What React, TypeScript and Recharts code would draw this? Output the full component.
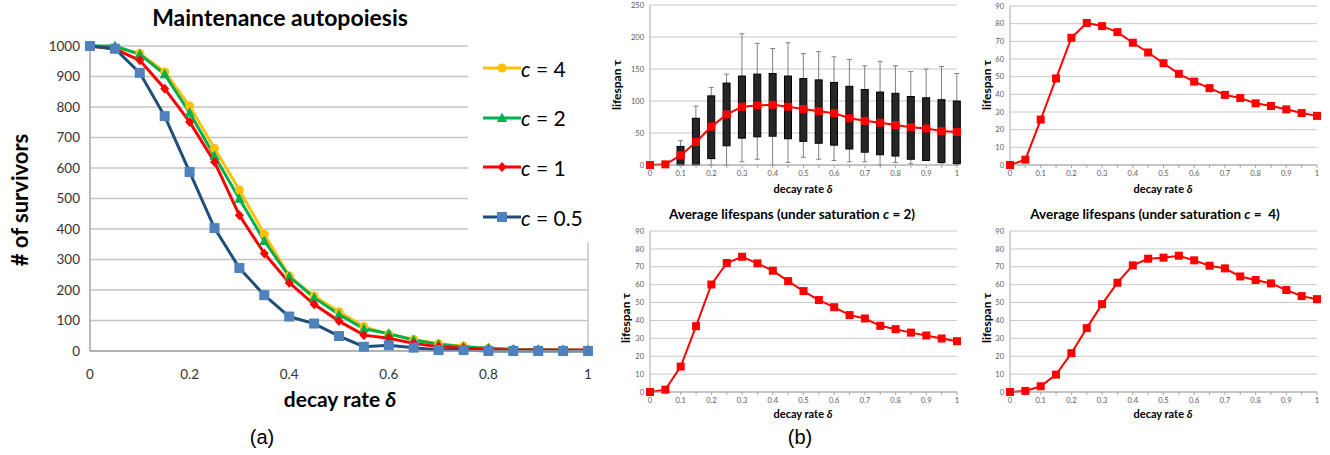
import React from 'react';
import { LineChart, ComposedChart, Line, Bar, XAxis, YAxis, CartesianGrid, ReferenceLine } from 'recharts';

// decay rate δ, shared by every panel
const deltas = [0, 0.05, 0.1, 0.15, 0.2, 0.25, 0.3, 0.35, 0.4, 0.45, 0.5, 0.55, 0.6, 0.65, 0.7, 0.75, 0.8, 0.85, 0.9, 0.95, 1];

// (a) number of survivors
const survC4 = [1000, 995, 976, 915, 803, 664, 528, 383, 246, 180, 129, 80, 55, 38, 24, 16, 9, 5, 4, 3, 2];
const survC2 = [1000, 1000, 973, 907, 781, 639, 499, 361, 244, 175, 120, 73, 57, 36, 22, 13, 9, 5, 4, 3, 2];
const survC1 = [1000, 990, 953, 860, 751, 620, 445, 320, 224, 153, 98, 52, 42, 25, 14, 9, 5, 3, 3, 3, 3];
const survC05 = [1000, 991, 912, 770, 587, 403, 272, 183, 113, 90, 49, 14, 19, 11, 3, 3, 0, 0, 0, 0, 0];
const survYTicks = [0, 100, 200, 300, 400, 500, 600, 700, 800, 900, 1000];
const survXTicks = [0, 0.2, 0.4, 0.6, 0.8, 1];

// (b) top-left: mean lifespan with box plots
const lifeMean = [0, 1, 15, 36, 60, 79, 91, 93, 94, 91, 87.5, 84, 81, 73, 69, 66, 62.5, 59, 57, 53, 51.5];
const boxLow = [null, null, 0, 0, 10, 30, 42, 44, 45, 41, 37, 34, 31, 25, 20, 16, 14, 9, 7, 4, 2];
const boxHigh = [null, null, 29, 73, 108, 128, 139, 142, 143, 139, 135, 133, 129, 123, 118, 114, 112, 107, 105, 102, 100];
const whiskMin = [null, null, 0, 0, 0, 0, 5, 9, 0, 4, 12, 9, 7, 5, 5, 0, 4, 2, 7, 3, 0];
const whiskMax = [null, null, 38, 92, 121, 142, 205, 190, 182, 191, 174, 177, 169, 165, 155, 162, 155, 146, 150, 154, 143];
const boxYTicks = [0, 50, 100, 150, 200, 250];

// (b) other three panels
const lifeTopRight = [0, 3, 25.7, 49, 72, 80.4, 78.6, 75.2, 69.2, 63.7, 57.6, 51.6, 47.2, 43.5, 39.7, 37.9, 34.9, 33.4, 31.5, 29.4, 27.8];
const lifeC2 = [0, 1.3, 14.2, 36.8, 60.1, 72.1, 75.6, 71.9, 67.8, 62, 56.4, 51.4, 47.4, 43, 41.1, 37, 35.1, 33.2, 31.6, 29.9, 28.4];
const lifeC4 = [0, 0.6, 3.2, 9.7, 21.7, 35.7, 49.1, 61.1, 70.8, 74.5, 75.1, 76.2, 73.6, 70.6, 69.1, 64.6, 62.6, 60.7, 57, 53.6, 51.9];
const lifeYTicks = [0, 10, 20, 30, 40, 50, 60, 70, 80, 90];

const survData = deltas.map((d, i) => ({ d, c4: survC4[i], c2: survC2[i], c1: survC1[i], c05: survC05[i] }));

const CALIBRI = 'Lato, "Open Sans", sans-serif';

function Txt({ x, y, size, bold = false, rotate = false, family = CALIBRI, children }: any) {
  return (
    <div
      style={{
        position: 'absolute', left: x, top: y, transform: `translate(-50%, -50%)${rotate ? ' rotate(-90deg)' : ''}`,
        fontSize: size, fontWeight: bold ? 700 : 400, fontFamily: family, whiteSpace: 'pre', color: '#000', lineHeight: 1,
      }}
    >
      {children}
    </div>
  );
}

const markers: Record<string, (cx: number, cy: number, k?: any) => JSX.Element> = {
  circle: (cx, cy, k) => <circle key={k} cx={cx} cy={cy} r={4.5} fill="#FFC000" />,
  triangle: (cx, cy, k) => <polygon key={k} points={`${cx},${cy - 5.5} ${cx + 5},${cy + 4} ${cx - 5},${cy + 4}`} fill="#00B050" />,
  diamond: (cx, cy, k) => <polygon key={k} points={`${cx},${cy - 5} ${cx + 4.5},${cy} ${cx},${cy + 5} ${cx - 4.5},${cy}`} fill="#FF0000" />,
  square: (cx, cy, k) => <rect key={k} x={cx - 5} y={cy - 5} width={10} height={10} fill="#4F81BD" />,
};

const survSeries = [
  { key: 'c4', label: '4', color: '#FFC000', marker: 'circle' },
  { key: 'c2', label: '2', color: '#00B050', marker: 'triangle' },
  { key: 'c1', label: '1', color: '#FF0000', marker: 'diamond' },
  { key: 'c05', label: '0.5', color: '#1F4E79', marker: 'square' },
];

function SurvivorsLegend() {
  return (
    <div style={{ position: 'absolute', left: 468, top: 36, width: 132, height: 206, background: '#fff' }}>
      {survSeries.map((s, i) => (
        <div key={s.key} style={{ position: 'absolute', left: 15, top: 32 + i * 49.7 - 12, height: 24, display: 'flex', alignItems: 'center' }}>
          <svg width={38} height={24}>
            <line x1={0} y1={12} x2={38} y2={12} stroke={s.color} strokeWidth={3} />
            {markers[s.marker](19, 12)}
          </svg>
          <span style={{ fontFamily: CALIBRI, fontSize: 21, whiteSpace: 'pre' }}>
            <i>c</i> = {s.label}
          </span>
        </div>
      ))}
    </div>
  );
}

function SurvivorsChart() {
  return (
    <div style={{ position: 'absolute', left: 0, top: 0 }}>
      <LineChart width={600} height={455} data={survData} margin={{ top: 46, right: 12, bottom: 74, left: 20 }}>
        <CartesianGrid vertical={false} stroke="#c4c4c4" strokeWidth={1.5} />
        <ReferenceLine x={1} stroke="#c4c4c4" strokeWidth={1.5} />
        <XAxis dataKey="d" type="number" domain={[0, 1]} ticks={survXTicks} interval={0} tickLine={false} tickSize={6} tickMargin={12} height={30}
          stroke="#a6a6a6" strokeWidth={1.5} tick={{ fontSize: 13.5, fill: '#333', fontFamily: CALIBRI }} />
        <YAxis type="number" domain={[0, 1000]} ticks={survYTicks} interval={0} width={70} tickLine={false} tickMargin={4}
          stroke="#a6a6a6" strokeWidth={1.5} tick={{ fontSize: 13.5, fill: '#333', fontFamily: CALIBRI }} />
        {survSeries.map(s => (
          <Line key={s.key} dataKey={s.key} type="linear" stroke={s.color} strokeWidth={3} isAnimationActive={false}
            dot={(p: any) => markers[s.marker](p.cx, p.cy, `${s.key}-${p.index}`)} />
        ))}
      </LineChart>
      <SurvivorsLegend />
    </div>
  );
}

// box + whisker drawn from the bar's own [min, max] geometry
const BoxShape = (props: any) => {
  const { x, y, width, height, payload } = props;
  if (!payload || payload.max == null || payload.hi == null) return <g />;
  const span = payload.max - payload.min || 1;
  const top = Math.min(y, y + height);
  const h = Math.abs(height);
  const toY = (v: number) => top + (h * (payload.max - v)) / span;
  const cx = x + width / 2;
  return (
    <g>
      <line x1={cx} x2={cx} y1={toY(payload.max)} y2={toY(payload.min)} stroke="#808080" strokeWidth={1} />
      <line x1={cx - 2.5} x2={cx + 2.5} y1={toY(payload.max)} y2={toY(payload.max)} stroke="#808080" strokeWidth={1} />
      <line x1={cx - 2.5} x2={cx + 2.5} y1={toY(payload.min)} y2={toY(payload.min)} stroke="#808080" strokeWidth={1} />
      <rect x={cx - 3.5} y={toY(payload.hi)} width={7} height={toY(payload.lo) - toY(payload.hi)} fill="#262626" stroke="#000" strokeWidth={1} />
    </g>
  );
};

const SquareDot = (p: any) => <rect key={`sq-${p.index}`} x={p.cx - 4} y={p.cy - 4} width={8} height={8} fill="#FF0000" />;

const fmtDelta = (v: number) => {
  const k = Math.round(v * 20);
  return k % 2 === 0 ? String(k / 20) : '';
};

function LifespanPanel({ values, yTicks, left, top, plotTop, plotBottom, boxes = false }: any) {
  const data = deltas.map((d, i) => ({ d, mean: values[i], lo: boxLow[i], hi: boxHigh[i], min: whiskMin[i], max: whiskMax[i] }));
  const tickStyle = { fontSize: 7.5, fill: '#595959', fontFamily: CALIBRI };
  return (
    <div style={{ position: 'absolute', left, top }}>
      <ComposedChart width={370} height={plotBottom - top + 35} data={data} margin={{ top: plotTop - top, right: 13, bottom: 20, left: 0 }}>
        <CartesianGrid vertical={false} stroke="#c8c8c8" />
        <XAxis dataKey="d" type="number" domain={[0, 1]} ticks={deltas} interval={0} tickFormatter={fmtDelta} tickSize={3} tickMargin={3}
          height={15} stroke="#a6a6a6" tick={tickStyle} />
        <YAxis type="number" domain={[0, yTicks[yTicks.length - 1]]} ticks={yTicks} interval={0} width={50} tickLine={false} tickSize={4}
          tickMargin={2} stroke="#a6a6a6" tick={tickStyle} />
        {boxes && (
          <Bar dataKey={(e: any) => (e.max == null ? null : [e.min, e.max])} barSize={7} shape={BoxShape} isAnimationActive={false} />
        )}
        <Line dataKey="mean" type="linear" stroke="#FF0000" strokeWidth={2} dot={SquareDot} isAnimationActive={false} />
      </ComposedChart>
    </div>
  );
}

const decayLabel = (
  <>
    decay rate <i>δ</i>
  </>
);

export default function App() {
  return (
    <div style={{ position: 'absolute', left: 0, top: 0, width: 1330, height: 455, background: '#fff', overflow: 'hidden' }}>
      <SurvivorsChart />
      <Txt x={280} y={17} size={23} bold>Maintenance autopoiesis</Txt>
      <Txt x={20} y={200} size={22} bold rotate># of survivors</Txt>
      <Txt x={340} y={398} size={21} bold>{decayLabel}</Txt>
      <Txt x={262} y={437} size={20} family='"Liberation Sans", Arial, sans-serif'>(a)</Txt>

      <LifespanPanel values={lifeMean} yTicks={boxYTicks} left={600} top={0} plotTop={5} plotBottom={165} boxes />
      <LifespanPanel values={lifeTopRight} yTicks={lifeYTicks} left={960} top={0} plotTop={6} plotBottom={165} />
      <LifespanPanel values={lifeC2} yTicks={lifeYTicks} left={600} top={200} plotTop={231} plotBottom={392} />
      <LifespanPanel values={lifeC4} yTicks={lifeYTicks} left={960} top={200} plotTop={231} plotBottom={392} />

      <Txt x={617} y={85} size={12} bold rotate>lifespan τ</Txt>
      <Txt x={987} y={85} size={12} bold rotate>lifespan τ</Txt>
      <Txt x={626} y={318} size={12} bold rotate>lifespan τ</Txt>
      <Txt x={987} y={318} size={12} bold rotate>lifespan τ</Txt>

      <Txt x={803} y={188} size={11} bold>{decayLabel}</Txt>
      <Txt x={1163} y={188} size={11} bold>{decayLabel}</Txt>
      <Txt x={803} y={413} size={11} bold>{decayLabel}</Txt>
      <Txt x={1163} y={413} size={11} bold>{decayLabel}</Txt>

      <Txt x={792} y={215} size={13.5} bold>Average lifespans (under saturation <i>c</i> = 2)</Txt>
      <Txt x={1155} y={215} size={13.5} bold>Average lifespans (under saturation <i>c</i> =  4)</Txt>
      <Txt x={800} y={437} size={20} family='"Liberation Sans", Arial, sans-serif'>(b)</Txt>
    </div>
  );
}
